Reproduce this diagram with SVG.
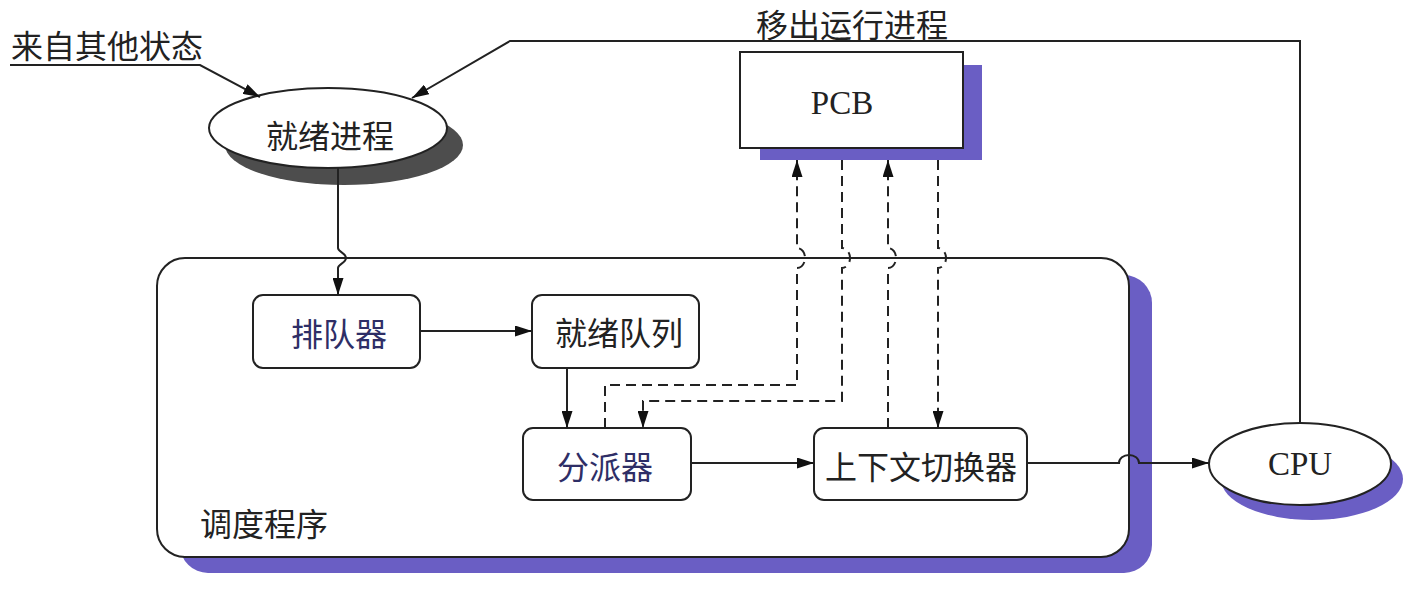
<svg xmlns="http://www.w3.org/2000/svg" width="1417" height="590" viewBox="0 0 1417 590">
<style>
.t{font-family:"Noto Sans CJK SC","Noto Sans",sans-serif;font-size:32px;fill:#222;dominant-baseline:central;text-anchor:middle}
.tb{fill:#2e2e66}
.lat{font-family:"Liberation Serif",serif;font-size:33px;fill:#222;dominant-baseline:central;text-anchor:middle}
.box{fill:#fff;stroke:#222;stroke-width:2}
.sh{fill:#6a5ec4}
.ln{fill:none;stroke:#222;stroke-width:2}
.ds{fill:none;stroke:#222;stroke-width:2;stroke-dasharray:10,6}
</style>
<defs>
<marker id="ah" markerUnits="userSpaceOnUse" markerWidth="18" markerHeight="11" refX="17" refY="5.5" orient="auto">
<path d="M0,0 L17,5.5 L0,11 z" fill="#111" stroke="none"/>
</marker>
</defs>
<rect width="1417" height="590" fill="#fff"/>

<g id="scheduler">
<rect class="sh" x="180" y="275" width="972" height="298" rx="28"/>
<rect class="box" x="157" y="258" width="972" height="299" rx="28"/>
<text class="t" x="264" y="522">调度程序</text>
</g>

<g id="ready-process">
<ellipse cx="344" cy="145" rx="119" ry="40" fill="#4d4d4d"/>
<ellipse class="box" cx="328" cy="128" rx="119" ry="40"/>
<text class="t" x="330" y="134">就绪进程</text>
</g>

<g id="pcb">
<rect class="sh" x="760" y="65" width="222" height="95"/>
<rect class="box" x="740" y="52" width="223" height="96"/>
<text class="lat" x="842" y="103">PCB</text>
</g>

<g id="cpu">
<ellipse class="sh" cx="1312" cy="479" rx="91" ry="41"/>
<ellipse class="box" cx="1300" cy="464" rx="91" ry="41"/>
<text class="lat" x="1300" y="464">CPU</text>
</g>

<g id="enqueuer">
<rect class="box" x="253" y="295" width="167" height="73" rx="10"/>
<text class="t tb" x="339" y="332">排队器</text>
</g>

<g id="ready-queue">
<rect class="box" x="532" y="295" width="167" height="73" rx="10"/>
<text class="t" x="619" y="331">就绪队列</text>
</g>

<g id="dispatcher">
<rect class="box" x="523" y="428" width="168" height="72" rx="10"/>
<text class="t tb" x="605" y="465">分派器</text>
</g>

<g id="context-switcher">
<rect class="box" x="814" y="428" width="213" height="72" rx="10"/>
<text class="t" x="921" y="465">上下文切换器</text>
</g>

<g id="labels">
<text class="t" x="11" y="44" style="text-anchor:start">来自其他状态</text>
<text class="t" x="852" y="23">移出运行进程</text>
</g>

<g id="connectors">
<path class="ln" d="M10,65 L200,65 L260,97" marker-end="url(#ah)"/>
<path class="ln" d="M1300,423 L1300,41 L510,41 L412,98" marker-end="url(#ah)"/>
<path class="ln" d="M338,168 L338,248 C338,252 346,253 346,258 C346,263 338,264 338,268 L338,295" marker-end="url(#ah)"/>
<path class="ln" d="M420,331 L532,331" marker-end="url(#ah)"/>
<path class="ln" d="M567,368 L567,428" marker-end="url(#ah)"/>
<path class="ln" d="M691,463 L814,463" marker-end="url(#ah)"/>
<path class="ln" d="M1027,463 L1119,463 A10,8 0 0 1 1139,463 L1209,463" marker-end="url(#ah)"/>
<path class="ds" d="M605,428 L605,385 L797,385 L797,268 A8,10 0 0 0 797,248 L797,160" marker-end="url(#ah)"/>
<path class="ds" d="M842,160 L842,248 A8,10 0 0 1 842,268 L842,401 L643,401 L643,428" marker-end="url(#ah)"/>
<path class="ds" d="M888,428 L888,268 A8,10 0 0 0 888,248 L888,160" marker-end="url(#ah)"/>
<path class="ds" d="M938,160 L938,248 A8,10 0 0 1 938,268 L938,428" marker-end="url(#ah)"/>
</g>
</svg>
